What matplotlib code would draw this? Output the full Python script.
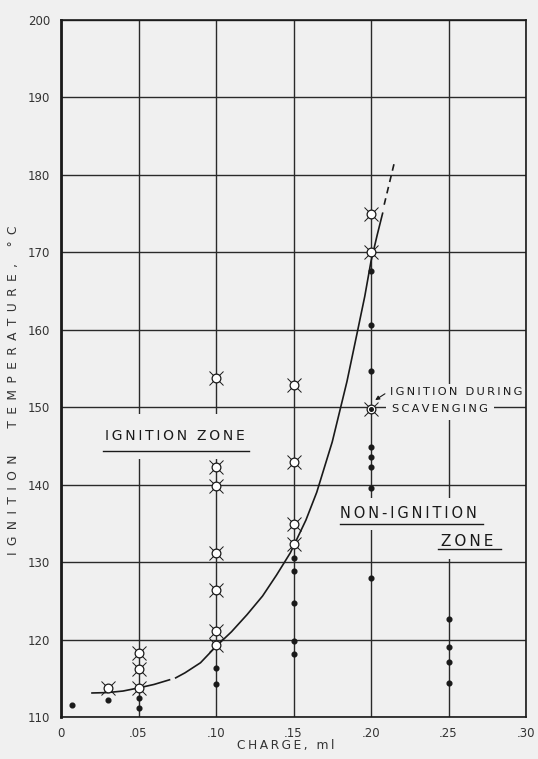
import numpy as np
import matplotlib.pyplot as plt

# Ignition temperature vs. charge

# ignition (open "sun" symbols)
ign_x = [0.03, 0.05, 0.05, 0.05,
         0.10, 0.10, 0.10, 0.10, 0.10, 0.10, 0.10,
         0.15, 0.15, 0.15, 0.15,
         0.20, 0.20]
ign_y = [113.8, 118.3, 116.2, 113.7,
         119.3, 121.1, 126.4, 131.1, 139.8, 142.3, 153.8,
         152.8, 142.9, 134.9, 132.3,
         174.9, 170.0]

# non-ignition (filled dots)
non_x = [0.007, 0.03, 0.05, 0.05, 0.10, 0.10,
         0.15, 0.15, 0.15, 0.15, 0.15,
         0.20, 0.20, 0.20, 0.20, 0.20, 0.20, 0.20, 0.20,
         0.25, 0.25, 0.25, 0.25]
non_y = [111.5, 112.2, 112.4, 111.2, 116.3, 114.2,
         130.5, 128.8, 124.7, 119.8, 118.1,
         167.5, 160.6, 154.6, 144.8, 143.5, 142.3, 139.5, 127.9,
         122.7, 119.0, 117.1, 114.4]

# ignition during scavenging
scav_x = [0.20]
scav_y = [149.8]

# boundary curve (hand drawn, with a small break near .07)
curve1_x = [0.020, 0.030, 0.040, 0.050, 0.060, 0.070]
curve1_y = [113.1, 113.15, 113.35, 113.75, 114.2, 114.8]
curve2_x = [0.074, 0.080, 0.090, 0.100, 0.110, 0.120, 0.130, 0.139, 0.148,
            0.158, 0.165, 0.175, 0.1845, 0.191, 0.196, 0.200, 0.204, 0.2075]
curve2_y = [115.05, 115.7, 117.0, 119.1, 121.0, 123.2, 125.6, 128.3, 131.2,
            135.4, 139.0, 145.5, 153.3, 159.5, 164.3, 168.8, 172.2, 175.0]
dash_x = [0.2085, 0.2155]
dash_y = [176.1, 181.9]

xticks = [0, 0.05, 0.10, 0.15, 0.20, 0.25, 0.30]
xticklabels = ['0', '.05', '.10', '.15', '.20', '.25', '.30']
yticks = list(range(110, 201, 10))

bg = '#f0f0f0'
ink = '#1a1a1a'
plt.rcParams['font.family'] = ['DejaVu Sans']


def spaced(s, sep='\u2009'):
    return sep.join(s)


fig = plt.figure(figsize=(5.38, 7.59), dpi=100, facecolor=bg)
ax = fig.add_axes([61 / 538, 1 - 717 / 759, 465 / 538, 697.5 / 759])
ax.set_facecolor(bg)

ax.set_xlim(0, 0.30)
ax.set_ylim(110, 200)
ax.set_xticks(xticks)
ax.set_xticklabels(xticklabels)
ax.set_yticks(yticks)
ax.tick_params(length=0, labelsize=8.5, colors='#333333')
ax.tick_params(axis='y', pad=8)
ax.tick_params(axis='x', pad=7)
ax.grid(True, color='#2a2a2a', linewidth=1.0)
ax.set_axisbelow(True)
for side in ['top', 'right', 'bottom']:
    ax.spines[side].set_linewidth(1.2)
    ax.spines[side].set_color(ink)
ax.spines['left'].set_linewidth(2.0)
ax.spines['left'].set_color(ink)

# curve
ax.plot(curve1_x, curve1_y, color=ink, lw=1.2, zorder=3)
ax.plot(curve2_x, curve2_y, color=ink, lw=1.2, zorder=3)
ax.plot(dash_x, dash_y, color=ink, lw=1.2, ls=(0, (4, 3)), zorder=3)

# points
ax.plot(non_x, non_y, 'o', ms=3.4, color=ink, zorder=5)
ax.plot(ign_x, ign_y, 'x', ms=10, mew=0.7, color=ink, zorder=5)
ax.plot(ign_x, ign_y, 'o', ms=6.3, mfc='white', mec=ink, mew=0.9, zorder=6)
ax.plot(scav_x, scav_y, 'x', ms=10, mew=0.7, color=ink, zorder=5)
ax.plot(scav_x, scav_y, 'o', ms=6.3, mfc='white', mec=ink, mew=0.9, zorder=6)
ax.plot(scav_x, scav_y, 'o', ms=2.6, color=ink, zorder=7)

# zone labels (hand lettering, underlined); kept under the spines
box = dict(facecolor=bg, edgecolor='none')
ax.text(0.0285, 146.2, spaced('IGNITION ZONE'), fontsize=10, color=ink,
        va='center', ha='left', zorder=2.4, bbox=dict(box, pad=11))
ax.plot([0.027, 0.121], [144.3, 144.3], color=ink, lw=1.0, zorder=4)

ax.text(0.180, 136.2, spaced('NON-IGNITION'), fontsize=10.5, color=ink,
        va='center', ha='left', zorder=2.4, bbox=dict(box, pad=6))
ax.plot([0.180, 0.272], [134.9, 134.9], color=ink, lw=1.0, zorder=4)
ax.text(0.245, 132.6, spaced('ZONE'), fontsize=11, color=ink,
        va='center', ha='left', zorder=2.4, bbox=dict(box, pad=7))
ax.plot([0.243, 0.284], [131.7, 131.7], color=ink, lw=1.0, zorder=4)

ax.text(0.2125, 151.9, spaced('IGNITION DURING'), fontsize=8.2, color=ink,
        va='center', ha='left', zorder=2.4, bbox=dict(box, pad=2.5))
ax.text(0.2135, 149.75, spaced('SCAVENGING'), fontsize=8.2, color=ink,
        va='center', ha='left', zorder=2.4, bbox=dict(box, pad=4.5))
ax.annotate('', xy=(0.2012, 150.7), xytext=(0.2105, 151.9),
            arrowprops=dict(arrowstyle='-|>', color=ink, lw=0.8,
                            mutation_scale=6), zorder=8)

# axis titles
fig.text(14 / 538, 1 - 390 / 759, spaced('IGNITION  TEMPERATURE, °C', ' \u2009'),
         rotation=90, fontsize=8.8, color='#333333', ha='center', va='center')
fig.text(286 / 538, 1 - 746 / 759, spaced('CHARGE, ml'), fontsize=8.8,
         color='#333333', ha='center', va='center')

fig.savefig('out.png', dpi=100, facecolor=bg)
